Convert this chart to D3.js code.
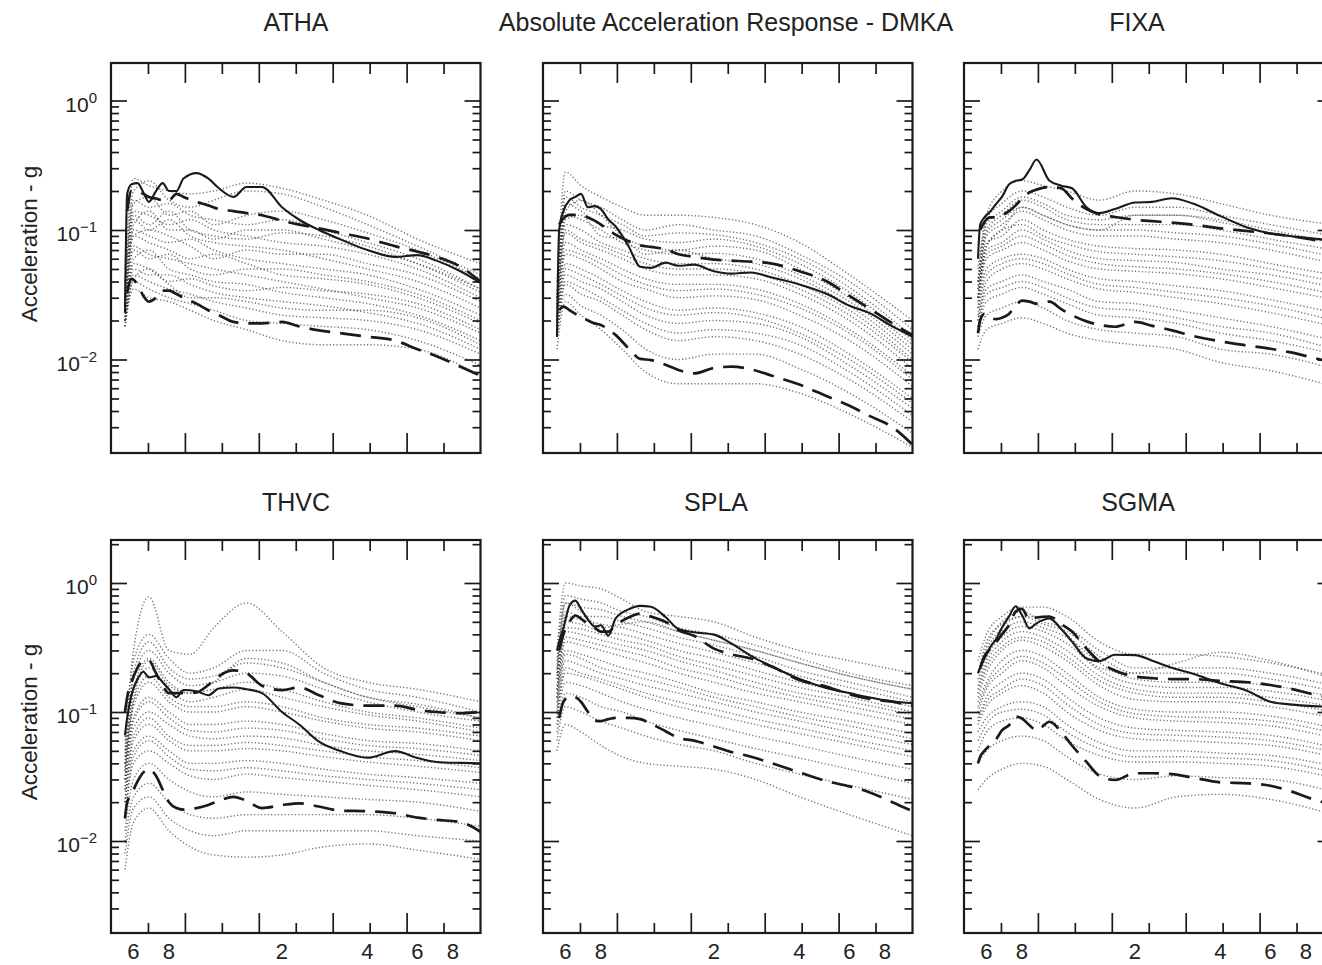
<!DOCTYPE html>
<html><head><meta charset="utf-8">
<script src="https://cdn.jsdelivr.net/npm/d3@7"></script>
<style>
html,body{margin:0;padding:0;background:#fff;}
svg{display:block;font-family:"Liberation Sans",Arial,Helvetica,sans-serif;}
</style></head><body>
<svg id="chart" width="1322" height="965"></svg>
<script>
// ---------------- DATA ----------------
const periods = [0.56, 0.57, 0.59, 0.62, 0.65, 0.68, 0.72, 0.76, 0.8, 0.85, 0.9, 1.0, 1.1, 1.2, 1.35, 1.5, 1.7, 2.0, 2.3, 2.7, 3.2, 4.0, 5.0, 6.0, 7.0, 8.5, 10];
const cloudPeriods = [0.56, 0.6, 0.68, 0.8, 0.95, 1.15, 1.5, 2.0, 2.8, 4.0, 6.0, 10];
const stationNames = ["ATHA", "DMKA", "FIXA", "THVC", "SPLA", "SGMA"];
const panelTitles = ["ATHA", "Absolute Acceleration Response - DMKA", "FIXA", "THVC", "SPLA", "SGMA"];
const yAxisTitle = "Acceleration - g";
const xTickLabels = ["6", "8", "2", "4", "6", "8"];
const xTickLabelPeriods = [0.6, 0.8, 2, 4, 6, 8];
const yDecades = [1, 0.1, 0.01];
const yDecadeExponents = ["0", "\u22121", "\u22122"];

const recordATHA = [0.023, 0.19, 0.225, 0.23, 0.195, 0.165, 0.2, 0.23, 0.2, 0.2, 0.25, 0.275, 0.25, 0.21, 0.18, 0.215, 0.215, 0.15, 0.12, 0.1, 0.085, 0.07, 0.062, 0.064, 0.058, 0.048, 0.039];
const upperATHA = [null, 0.14, 0.2, 0.2, 0.19, 0.18, 0.175, 0.17, 0.17, 0.19, 0.18, 0.165, 0.155, 0.145, 0.14, 0.135, 0.13, 0.118, 0.11, 0.103, 0.095, 0.086, 0.075, 0.068, 0.062, 0.052, 0.04];
const lowerATHA = [null, 0.033, 0.042, 0.038, 0.031, 0.028, 0.03, 0.034, 0.034, 0.032, 0.03, 0.027, 0.024, 0.022, 0.0195, 0.019, 0.019, 0.0195, 0.018, 0.0168, 0.016, 0.015, 0.014, 0.012, 0.0106, 0.0088, 0.0075];

const recordDMKA = [0.015, 0.1, 0.14, 0.17, 0.18, 0.19, 0.15, 0.153, 0.145, 0.12, 0.107, 0.075, 0.052, 0.051, 0.056, 0.053, 0.054, 0.048, 0.046, 0.047, 0.043, 0.038, 0.032, 0.026, 0.023, 0.018, 0.015];
const upperDMKA = [null, 0.11, 0.123, 0.131, 0.131, 0.13, 0.125, 0.118, 0.11, 0.1, 0.092, 0.082, 0.076, 0.074, 0.071, 0.065, 0.062, 0.059, 0.058, 0.057, 0.055, 0.048, 0.04, 0.031, 0.025, 0.019, 0.0155];
const lowerDMKA = [null, 0.024, 0.0256, 0.024, 0.0225, 0.0215, 0.02, 0.019, 0.0185, 0.017, 0.0155, 0.0122, 0.0101, 0.0099, 0.0091, 0.0083, 0.0078, 0.0086, 0.0088, 0.0084, 0.0075, 0.0064, 0.0052, 0.0044, 0.0037, 0.003, 0.0022];

const recordFIXA = [0.06, 0.11, 0.125, 0.14, 0.16, 0.18, 0.225, 0.24, 0.245, 0.29, 0.35, 0.24, 0.22, 0.21, 0.15, 0.135, 0.145, 0.163, 0.165, 0.176, 0.16, 0.128, 0.104, 0.094, 0.09, 0.086, 0.083];
const upperFIXA = [null, 0.1, 0.115, 0.125, 0.125, 0.13, 0.14, 0.155, 0.175, 0.195, 0.205, 0.215, 0.21, 0.175, 0.145, 0.132, 0.126, 0.12, 0.117, 0.114, 0.11, 0.103, 0.098, 0.094, 0.09, 0.084, 0.08];
const lowerFIXA = [0.016, 0.02, 0.0225, 0.021, 0.0205, 0.021, 0.0225, 0.026, 0.0285, 0.028, 0.027, 0.028, 0.0245, 0.022, 0.0197, 0.0185, 0.0179, 0.0195, 0.0182, 0.0168, 0.0152, 0.0138, 0.0128, 0.0121, 0.0114, 0.0103, 0.0095];

const recordTHVC = [0.066, 0.09, 0.135, 0.18, 0.205, 0.185, 0.19, 0.17, 0.15, 0.13, 0.148, 0.145, 0.135, 0.152, 0.155, 0.15, 0.14, 0.1, 0.08, 0.059, 0.05, 0.0442, 0.0497, 0.044, 0.041, 0.0403, 0.04];
const upperTHVC = [0.1, 0.13, 0.17, 0.22, 0.25, 0.25, 0.2, 0.16, 0.14, 0.14, 0.14, 0.142, 0.162, 0.19, 0.21, 0.2, 0.16, 0.148, 0.155, 0.135, 0.117, 0.112, 0.112, 0.104, 0.1, 0.098, 0.1];
const lowerTHVC = [0.015, 0.02, 0.023, 0.029, 0.034, 0.036, 0.032, 0.025, 0.02, 0.018, 0.0175, 0.018, 0.019, 0.0205, 0.022, 0.0205, 0.018, 0.019, 0.0196, 0.0185, 0.0172, 0.017, 0.0164, 0.0152, 0.0146, 0.014, 0.0118];

const recordSPLA = [0.3, 0.35, 0.445, 0.67, 0.73, 0.63, 0.52, 0.46, 0.47, 0.39, 0.53, 0.625, 0.665, 0.655, 0.545, 0.44, 0.415, 0.398, 0.34, 0.272, 0.225, 0.18, 0.153, 0.14, 0.13, 0.121, 0.117];
const upperSPLA = [null, 0.3, 0.4, 0.5, 0.56, 0.53, 0.48, 0.45, 0.42, 0.42, 0.47, 0.54, 0.58, 0.55, 0.5, 0.43, 0.39, 0.31, 0.28, 0.26, 0.225, 0.177, 0.157, 0.137, 0.127, 0.12, 0.112];
const lowerSPLA = [null, 0.09, 0.12, 0.132, 0.13, 0.12, 0.1, 0.086, 0.085, 0.088, 0.09, 0.09, 0.088, 0.081, 0.071, 0.063, 0.06, 0.054, 0.049, 0.045, 0.04, 0.034, 0.029, 0.0265, 0.024, 0.02, 0.017];

const recordSGMA = [0.2, 0.22, 0.26, 0.32, 0.37, 0.45, 0.55, 0.66, 0.565, 0.445, 0.487, 0.53, 0.44, 0.351, 0.26, 0.248, 0.278, 0.276, 0.25, 0.22, 0.198, 0.167, 0.145, 0.12, 0.1146, 0.111, 0.11];
const upperSGMA = [null, 0.22, 0.27, 0.31, 0.35, 0.4, 0.47, 0.6, 0.63, 0.52, 0.54, 0.55, 0.48, 0.42, 0.31, 0.245, 0.21, 0.188, 0.183, 0.18, 0.18, 0.174, 0.17, 0.162, 0.152, 0.137, 0.128];
const lowerSGMA = [0.04, 0.045, 0.05, 0.056, 0.062, 0.072, 0.079, 0.092, 0.089, 0.079, 0.072, 0.084, 0.07, 0.055, 0.041, 0.032, 0.0297, 0.0335, 0.0335, 0.033, 0.031, 0.0285, 0.028, 0.0268, 0.0245, 0.021, 0.019];

const cloudATHA = [
  [0.05, 0.25, 0.22, 0.2, 0.19, 0.2, 0.23, 0.21, 0.17, 0.13, 0.085, 0.055],
  [0.04, 0.2, 0.24, 0.17, 0.15, 0.17, 0.2, 0.19, 0.15, 0.11, 0.075, 0.045],
  [0.035, 0.17, 0.15, 0.16, 0.13, 0.12, 0.11, 0.12, 0.1, 0.08, 0.06, 0.035],
  [0.03, 0.14, 0.13, 0.11, 0.12, 0.1, 0.09, 0.08, 0.075, 0.065, 0.05, 0.03],
  [0.03, 0.12, 0.1, 0.12, 0.09, 0.08, 0.075, 0.07, 0.06, 0.05, 0.04, 0.025],
  [0.025, 0.1, 0.09, 0.08, 0.085, 0.07, 0.06, 0.055, 0.05, 0.045, 0.035, 0.022],
  [0.025, 0.09, 0.08, 0.07, 0.06, 0.065, 0.055, 0.045, 0.042, 0.038, 0.03, 0.019],
  [0.02, 0.075, 0.065, 0.06, 0.055, 0.05, 0.045, 0.04, 0.035, 0.03, 0.025, 0.016],
  [0.02, 0.06, 0.07, 0.05, 0.045, 0.04, 0.038, 0.033, 0.03, 0.027, 0.022, 0.014],
  [0.02, 0.05, 0.045, 0.045, 0.038, 0.033, 0.03, 0.028, 0.026, 0.023, 0.019, 0.012],
  [0.018, 0.045, 0.04, 0.035, 0.032, 0.028, 0.025, 0.022, 0.021, 0.02, 0.017, 0.011],
  [0.02, 0.04, 0.035, 0.03, 0.027, 0.024, 0.02, 0.019, 0.018, 0.017, 0.014, 0.009],
  [0.018, 0.035, 0.03, 0.028, 0.024, 0.02, 0.017, 0.014, 0.013, 0.013, 0.012, 0.0075],
  [0.02, 0.11, 0.14, 0.1, 0.1, 0.085, 0.1, 0.1, 0.085, 0.07, 0.055, 0.035],
  [0.03, 0.16, 0.18, 0.13, 0.14, 0.11, 0.13, 0.14, 0.12, 0.095, 0.07, 0.042],
  [0.025, 0.13, 0.11, 0.14, 0.1, 0.09, 0.085, 0.095, 0.09, 0.075, 0.055, 0.033],
  [0.025, 0.09, 0.1, 0.09, 0.075, 0.06, 0.07, 0.065, 0.065, 0.055, 0.045, 0.028],
  [0.02, 0.07, 0.06, 0.065, 0.05, 0.045, 0.05, 0.05, 0.045, 0.04, 0.032, 0.02],
  [0.02, 0.055, 0.05, 0.04, 0.042, 0.037, 0.034, 0.036, 0.034, 0.032, 0.027, 0.017],
  [0.018, 0.042, 0.05, 0.038, 0.03, 0.03, 0.028, 0.025, 0.024, 0.024, 0.021, 0.013]
];
const cloudDMKA = [
  [0.04, 0.28, 0.22, 0.18, 0.15, 0.13, 0.13, 0.125, 0.11, 0.08, 0.045, 0.02],
  [0.03, 0.2, 0.17, 0.15, 0.12, 0.1, 0.11, 0.1, 0.09, 0.065, 0.04, 0.017],
  [0.03, 0.16, 0.14, 0.11, 0.1, 0.085, 0.08, 0.085, 0.075, 0.055, 0.033, 0.014],
  [0.025, 0.13, 0.12, 0.1, 0.08, 0.07, 0.065, 0.066, 0.06, 0.045, 0.028, 0.012],
  [0.025, 0.11, 0.1, 0.08, 0.07, 0.06, 0.055, 0.055, 0.05, 0.038, 0.024, 0.01],
  [0.02, 0.095, 0.08, 0.07, 0.06, 0.05, 0.045, 0.045, 0.042, 0.032, 0.02, 0.0085],
  [0.02, 0.08, 0.07, 0.06, 0.05, 0.042, 0.038, 0.038, 0.035, 0.027, 0.017, 0.0075],
  [0.02, 0.065, 0.06, 0.05, 0.04, 0.035, 0.03, 0.031, 0.029, 0.022, 0.014, 0.0062],
  [0.018, 0.055, 0.05, 0.042, 0.034, 0.028, 0.024, 0.025, 0.023, 0.018, 0.011, 0.005],
  [0.018, 0.045, 0.04, 0.035, 0.028, 0.022, 0.019, 0.02, 0.019, 0.015, 0.009, 0.0042],
  [0.015, 0.038, 0.032, 0.028, 0.022, 0.017, 0.014, 0.015, 0.014, 0.011, 0.007, 0.0033],
  [0.015, 0.032, 0.026, 0.022, 0.017, 0.012, 0.01, 0.011, 0.011, 0.0085, 0.0055, 0.0027],
  [0.012, 0.028, 0.022, 0.017, 0.012, 0.008, 0.0065, 0.0065, 0.0065, 0.0055, 0.0038, 0.0021],
  [0.03, 0.14, 0.17, 0.13, 0.09, 0.075, 0.07, 0.075, 0.07, 0.05, 0.03, 0.013],
  [0.03, 0.18, 0.15, 0.13, 0.11, 0.09, 0.095, 0.092, 0.08, 0.06, 0.036, 0.015],
  [0.025, 0.12, 0.13, 0.09, 0.085, 0.065, 0.07, 0.06, 0.055, 0.042, 0.026, 0.011],
  [0.022, 0.1, 0.085, 0.075, 0.065, 0.055, 0.05, 0.05, 0.046, 0.035, 0.022, 0.0095],
  [0.02, 0.07, 0.065, 0.055, 0.045, 0.038, 0.034, 0.035, 0.032, 0.025, 0.016, 0.007],
  [0.018, 0.05, 0.045, 0.038, 0.031, 0.025, 0.022, 0.023, 0.021, 0.016, 0.01, 0.0046],
  [0.015, 0.04, 0.036, 0.03, 0.024, 0.019, 0.016, 0.017, 0.016, 0.013, 0.008, 0.0037]
];
const cloudFIXA = [
  [0.05, 0.13, 0.2, 0.24, 0.22, 0.2, 0.17, 0.2, 0.19, 0.16, 0.13, 0.11],
  [0.04, 0.12, 0.16, 0.2, 0.18, 0.15, 0.13, 0.15, 0.15, 0.13, 0.11, 0.09],
  [0.04, 0.1, 0.13, 0.17, 0.15, 0.12, 0.11, 0.11, 0.11, 0.1, 0.085, 0.07],
  [0.035, 0.09, 0.11, 0.14, 0.12, 0.1, 0.09, 0.09, 0.085, 0.08, 0.07, 0.055],
  [0.03, 0.08, 0.09, 0.12, 0.1, 0.085, 0.075, 0.072, 0.07, 0.065, 0.055, 0.045],
  [0.03, 0.07, 0.08, 0.1, 0.085, 0.07, 0.06, 0.058, 0.056, 0.05, 0.045, 0.036],
  [0.025, 0.06, 0.07, 0.08, 0.07, 0.058, 0.05, 0.048, 0.046, 0.042, 0.036, 0.029],
  [0.025, 0.05, 0.06, 0.065, 0.06, 0.05, 0.042, 0.04, 0.037, 0.034, 0.029, 0.023],
  [0.02, 0.04, 0.05, 0.055, 0.05, 0.042, 0.035, 0.033, 0.03, 0.027, 0.023, 0.018],
  [0.02, 0.035, 0.04, 0.045, 0.04, 0.035, 0.028, 0.027, 0.024, 0.021, 0.018, 0.014],
  [0.018, 0.028, 0.032, 0.036, 0.032, 0.027, 0.022, 0.021, 0.019, 0.016, 0.014, 0.011],
  [0.015, 0.022, 0.025, 0.028, 0.025, 0.02, 0.017, 0.016, 0.015, 0.012, 0.011, 0.0085],
  [0.012, 0.017, 0.019, 0.021, 0.019, 0.016, 0.014, 0.013, 0.012, 0.0095, 0.0082, 0.0062],
  [0.03, 0.075, 0.1, 0.15, 0.13, 0.11, 0.1, 0.13, 0.13, 0.12, 0.1, 0.08],
  [0.04, 0.11, 0.14, 0.18, 0.16, 0.13, 0.12, 0.13, 0.13, 0.115, 0.095, 0.08],
  [0.035, 0.095, 0.12, 0.15, 0.13, 0.11, 0.1, 0.1, 0.095, 0.09, 0.078, 0.062],
  [0.03, 0.075, 0.1, 0.11, 0.09, 0.078, 0.068, 0.065, 0.062, 0.058, 0.05, 0.04],
  [0.028, 0.065, 0.075, 0.09, 0.078, 0.064, 0.055, 0.052, 0.05, 0.046, 0.04, 0.032],
  [0.022, 0.045, 0.055, 0.06, 0.055, 0.046, 0.038, 0.036, 0.033, 0.03, 0.026, 0.02],
  [0.018, 0.032, 0.036, 0.04, 0.036, 0.03, 0.025, 0.024, 0.021, 0.018, 0.016, 0.012]
];
const cloudTHVC = [
  [0.06, 0.3, 0.78, 0.3, 0.28, 0.45, 0.7, 0.42, 0.22, 0.17, 0.15, 0.12],
  [0.05, 0.25, 0.4, 0.26, 0.2, 0.22, 0.3, 0.3, 0.2, 0.15, 0.13, 0.1],
  [0.04, 0.18, 0.3, 0.2, 0.16, 0.17, 0.2, 0.19, 0.15, 0.12, 0.1, 0.085],
  [0.035, 0.14, 0.22, 0.15, 0.12, 0.13, 0.15, 0.13, 0.11, 0.095, 0.085, 0.07],
  [0.03, 0.11, 0.17, 0.12, 0.1, 0.1, 0.11, 0.1, 0.085, 0.075, 0.07, 0.06],
  [0.03, 0.09, 0.13, 0.1, 0.08, 0.08, 0.085, 0.08, 0.068, 0.06, 0.057, 0.05],
  [0.025, 0.075, 0.1, 0.08, 0.065, 0.062, 0.065, 0.063, 0.055, 0.05, 0.047, 0.042],
  [0.02, 0.06, 0.08, 0.06, 0.05, 0.05, 0.052, 0.05, 0.045, 0.041, 0.038, 0.034],
  [0.02, 0.05, 0.065, 0.05, 0.04, 0.04, 0.042, 0.04, 0.036, 0.033, 0.031, 0.028],
  [0.015, 0.04, 0.05, 0.04, 0.032, 0.03, 0.033, 0.031, 0.029, 0.027, 0.025, 0.022],
  [0.012, 0.03, 0.04, 0.03, 0.024, 0.022, 0.024, 0.023, 0.022, 0.021, 0.02, 0.017],
  [0.01, 0.022, 0.028, 0.02, 0.016, 0.015, 0.016, 0.016, 0.016, 0.016, 0.015, 0.013],
  [0.008, 0.018, 0.022, 0.015, 0.012, 0.011, 0.012, 0.012, 0.012, 0.012, 0.011, 0.01],
  [0.006, 0.014, 0.018, 0.012, 0.009, 0.0078, 0.0075, 0.0078, 0.009, 0.0095, 0.0085, 0.0072],
  [0.04, 0.12, 0.25, 0.16, 0.14, 0.17, 0.26, 0.24, 0.17, 0.13, 0.11, 0.09],
  [0.045, 0.2, 0.35, 0.22, 0.18, 0.19, 0.24, 0.22, 0.17, 0.13, 0.115, 0.09],
  [0.035, 0.15, 0.26, 0.17, 0.14, 0.15, 0.17, 0.15, 0.12, 0.1, 0.09, 0.075],
  [0.03, 0.12, 0.19, 0.13, 0.11, 0.11, 0.12, 0.11, 0.09, 0.08, 0.075, 0.065],
  [0.025, 0.085, 0.12, 0.09, 0.072, 0.07, 0.075, 0.072, 0.062, 0.055, 0.052, 0.046],
  [0.02, 0.065, 0.09, 0.065, 0.055, 0.055, 0.058, 0.055, 0.05, 0.045, 0.042, 0.037],
  [0.015, 0.045, 0.06, 0.045, 0.036, 0.035, 0.037, 0.035, 0.032, 0.03, 0.028, 0.025]
];
const cloudSPLA = [
  [0.3, 1.0, 0.95, 0.9, 0.75, 0.6, 0.55, 0.5, 0.38, 0.3, 0.25, 0.2],
  [0.25, 0.8, 0.75, 0.7, 0.6, 0.55, 0.45, 0.4, 0.33, 0.26, 0.2, 0.16],
  [0.2, 0.6, 0.55, 0.55, 0.5, 0.45, 0.38, 0.33, 0.27, 0.21, 0.17, 0.13],
  [0.18, 0.5, 0.48, 0.42, 0.4, 0.36, 0.3, 0.26, 0.21, 0.17, 0.14, 0.11],
  [0.15, 0.42, 0.4, 0.36, 0.33, 0.3, 0.25, 0.21, 0.17, 0.14, 0.12, 0.095],
  [0.13, 0.35, 0.33, 0.3, 0.27, 0.24, 0.2, 0.17, 0.14, 0.12, 0.1, 0.08],
  [0.12, 0.3, 0.28, 0.25, 0.22, 0.2, 0.17, 0.14, 0.12, 0.1, 0.085, 0.068],
  [0.1, 0.25, 0.23, 0.2, 0.18, 0.16, 0.14, 0.12, 0.1, 0.085, 0.07, 0.056],
  [0.09, 0.2, 0.19, 0.17, 0.15, 0.13, 0.11, 0.095, 0.08, 0.068, 0.057, 0.045],
  [0.08, 0.17, 0.16, 0.14, 0.12, 0.105, 0.09, 0.078, 0.065, 0.055, 0.045, 0.036],
  [0.07, 0.14, 0.13, 0.11, 0.1, 0.085, 0.072, 0.062, 0.052, 0.044, 0.036, 0.028],
  [0.06, 0.11, 0.1, 0.085, 0.075, 0.065, 0.056, 0.05, 0.04, 0.033, 0.027, 0.021],
  [0.05, 0.08, 0.07, 0.055, 0.045, 0.04, 0.038, 0.036, 0.03, 0.022, 0.016, 0.011],
  [0.2, 0.7, 0.6, 0.45, 0.48, 0.5, 0.42, 0.36, 0.3, 0.24, 0.19, 0.15],
  [0.22, 0.7, 0.65, 0.62, 0.55, 0.5, 0.42, 0.36, 0.3, 0.24, 0.19, 0.15],
  [0.18, 0.55, 0.52, 0.48, 0.45, 0.4, 0.34, 0.29, 0.24, 0.19, 0.155, 0.12],
  [0.15, 0.45, 0.44, 0.4, 0.36, 0.33, 0.27, 0.23, 0.19, 0.155, 0.13, 0.1],
  [0.13, 0.38, 0.36, 0.33, 0.3, 0.27, 0.22, 0.19, 0.155, 0.13, 0.11, 0.088],
  [0.11, 0.28, 0.26, 0.22, 0.2, 0.18, 0.155, 0.13, 0.11, 0.092, 0.078, 0.062],
  [0.09, 0.22, 0.2, 0.18, 0.16, 0.14, 0.12, 0.105, 0.088, 0.075, 0.062, 0.05]
];
const cloudSGMA = [
  [0.25, 0.4, 0.55, 0.65, 0.65, 0.55, 0.35, 0.28, 0.28, 0.27, 0.24, 0.19],
  [0.2, 0.32, 0.5, 0.6, 0.5, 0.45, 0.3, 0.22, 0.22, 0.22, 0.2, 0.16],
  [0.18, 0.28, 0.42, 0.5, 0.45, 0.38, 0.24, 0.18, 0.17, 0.17, 0.16, 0.13],
  [0.15, 0.24, 0.35, 0.42, 0.38, 0.3, 0.19, 0.15, 0.14, 0.14, 0.13, 0.11],
  [0.13, 0.2, 0.3, 0.36, 0.32, 0.25, 0.16, 0.125, 0.12, 0.12, 0.11, 0.09],
  [0.12, 0.17, 0.25, 0.3, 0.27, 0.2, 0.13, 0.105, 0.1, 0.1, 0.093, 0.075],
  [0.1, 0.15, 0.2, 0.25, 0.22, 0.16, 0.11, 0.09, 0.085, 0.083, 0.078, 0.063],
  [0.09, 0.13, 0.17, 0.2, 0.18, 0.13, 0.09, 0.075, 0.072, 0.07, 0.066, 0.053],
  [0.08, 0.11, 0.14, 0.16, 0.14, 0.1, 0.072, 0.062, 0.06, 0.058, 0.055, 0.045],
  [0.07, 0.09, 0.11, 0.12, 0.11, 0.08, 0.058, 0.05, 0.05, 0.048, 0.046, 0.038],
  [0.05, 0.07, 0.085, 0.09, 0.08, 0.06, 0.046, 0.041, 0.041, 0.04, 0.038, 0.031],
  [0.04, 0.05, 0.06, 0.065, 0.06, 0.045, 0.033, 0.03, 0.032, 0.031, 0.03, 0.024],
  [0.025, 0.03, 0.036, 0.04, 0.038, 0.03, 0.021, 0.018, 0.022, 0.023, 0.021, 0.016],
  [0.2, 0.3, 0.45, 0.55, 0.55, 0.4, 0.22, 0.2, 0.24, 0.29, 0.25, 0.18],
  [0.2, 0.35, 0.48, 0.55, 0.48, 0.42, 0.27, 0.2, 0.2, 0.2, 0.18, 0.145],
  [0.16, 0.26, 0.38, 0.46, 0.42, 0.34, 0.21, 0.165, 0.155, 0.155, 0.145, 0.12],
  [0.14, 0.22, 0.32, 0.38, 0.35, 0.27, 0.175, 0.14, 0.13, 0.13, 0.12, 0.1],
  [0.11, 0.16, 0.22, 0.27, 0.24, 0.18, 0.12, 0.097, 0.092, 0.09, 0.085, 0.069],
  [0.085, 0.12, 0.15, 0.18, 0.16, 0.115, 0.08, 0.068, 0.066, 0.064, 0.06, 0.049],
  [0.06, 0.08, 0.1, 0.105, 0.095, 0.07, 0.052, 0.045, 0.045, 0.044, 0.042, 0.034]
];

// ---------------- LAYOUT ----------------
const colLeft = [111, 543, 964];
const plotW = 369.5;
const rowTop = [63, 540], rowBottom = [453, 933];
const rowUnitY = [100.5, 583], rowDecadePx = [129.5, 129];
const titleX = [296, 726, 1137, 296, 716, 1138];
const titleY = [31, 31, 31, 511, 511, 511];
const yTitleY = [244, 722];

const panels = [
  {record: recordATHA, upper: upperATHA, lower: lowerATHA, cloud: cloudATHA},
  {record: recordDMKA, upper: upperDMKA, lower: lowerDMKA, cloud: cloudDMKA},
  {record: recordFIXA, upper: upperFIXA, lower: lowerFIXA, cloud: cloudFIXA},
  {record: recordTHVC, upper: upperTHVC, lower: lowerTHVC, cloud: cloudTHVC},
  {record: recordSPLA, upper: upperSPLA, lower: lowerSPLA, cloud: cloudSPLA},
  {record: recordSGMA, upper: upperSGMA, lower: lowerSGMA, cloud: cloudSGMA}
];

const svg = d3.select("#chart");
const ink = "#1a1a1a";

panels.forEach((p, i) => {
  const col = i % 3, row = Math.floor(i / 3);
  const L = colLeft[col], T = rowTop[row], B = rowBottom[row];
  const yMax = Math.pow(10, (rowUnitY[row] - T) / rowDecadePx[row]);
  const yMin = Math.pow(10, -(B - rowUnitY[row]) / rowDecadePx[row]);
  const x = d3.scaleLog().domain([0.5, 10]).range([L, L + plotW]);
  const y = d3.scaleLog().domain([yMin, yMax]).range([B, T]);
  const u = d3.scaleLinear().domain([0, 10]).range([L, L + plotW]);

  const g = svg.append("g").attr("class", "panel-" + stationNames[i]);
  const clipId = "clip" + i;
  g.append("clipPath").attr("id", clipId).append("rect")
    .attr("x", L).attr("y", T).attr("width", plotW).attr("height", B - T);

  const line = d3.line()
    .defined(d => d[1] != null)
    .x(d => x(d[0])).y(d => y(d[1]))
    .curve(d3.curveMonotoneX);

  const plot = g.append("g").attr("clip-path", `url(#${clipId})`);
  plot.selectAll("path.cloud").data(p.cloud).join("path")
    .attr("class", "cloud")
    .attr("d", c => line(cloudPeriods.map((t, k) => [t, c[k]])))
    .attr("fill", "none").attr("stroke", "#383838")
    .attr("stroke-width", 1.4).attr("stroke-dasharray", "1.2,2.2")
    .attr("opacity", 0.72);

  [p.upper, p.lower].forEach(s => {
    plot.append("path").attr("d", line(periods.map((t, k) => [t, s[k]])))
      .attr("fill", "none").attr("stroke", ink).attr("stroke-width", 2.7)
      .attr("stroke-dasharray", "21,10");
  });
  plot.append("path").attr("d", line(periods.map((t, k) => [t, p.record[k]])))
    .attr("fill", "none").attr("stroke", ink).attr("stroke-width", 2.1);

  // axes ticks
  const allY = y.ticks();
  const majorY = allY.filter(v => Math.abs(Math.log10(v) - Math.round(Math.log10(v))) < 1e-6);
  const minorY = allY.filter(v => !majorY.includes(v) && v > yMin * 1.15 && v < yMax);
  const styleAxis = s => {
    s.select(".domain").remove();
    s.selectAll("line").attr("stroke", ink).attr("stroke-width", 1.7);
    s.selectAll("text").remove();
  };
  g.append("g").attr("transform", `translate(${L},0)`).call(d3.axisLeft(y).tickValues(minorY).tickSize(-8)).call(styleAxis);
  g.append("g").attr("transform", `translate(${L},0)`).call(d3.axisLeft(y).tickValues(majorY).tickSize(-16)).call(styleAxis);
  g.append("g").attr("transform", `translate(${L + plotW},0)`).call(d3.axisRight(y).tickValues(minorY).tickSize(-8)).call(styleAxis);
  g.append("g").attr("transform", `translate(${L + plotW},0)`).call(d3.axisRight(y).tickValues(majorY).tickSize(-16)).call(styleAxis);
  g.append("g").attr("transform", `translate(0,${T})`).call(d3.axisTop(u).tickValues([1, 3, 5, 7, 9]).tickSize(-11)).call(styleAxis);
  g.append("g").attr("transform", `translate(0,${T})`).call(d3.axisTop(u).tickValues([2, 4, 6, 8]).tickSize(-20)).call(styleAxis);
  g.append("g").attr("transform", `translate(0,${B})`).call(d3.axisBottom(u).tickValues([1, 3, 5, 7, 9]).tickSize(-10)).call(styleAxis);
  g.append("g").attr("transform", `translate(0,${B})`).call(d3.axisBottom(u).tickValues([2, 4, 6, 8]).tickSize(-20)).call(styleAxis);

  g.append("rect").attr("x", L).attr("y", T).attr("width", plotW).attr("height", B - T)
    .attr("fill", "none").attr("stroke", ink).attr("stroke-width", 2.2);

  // y tick labels (first column)
  if (col === 0) {
    yDecades.forEach((v, k) => {
      const t = g.append("text").attr("x", L - 14).attr("y", y(v) + 11)
        .attr("text-anchor", "end").attr("font-size", 21).attr("fill", "#222");
      t.append("tspan").text("10");
      t.append("tspan").attr("dy", -9).attr("font-size", 15).text(yDecadeExponents[k]);
    });
    g.append("text").attr("transform", `translate(37,${yTitleY[row]}) rotate(-90)`)
      .attr("text-anchor", "middle").attr("font-size", 22.5).attr("fill", "#222")
      .text(yAxisTitle);
  }
  // x tick labels (bottom row)
  if (row === 1) {
    g.selectAll("text.xl").data(xTickLabelPeriods).join("text")
      .attr("class", "xl").attr("x", v => x(v)).attr("y", B + 26)
      .attr("text-anchor", "middle").attr("font-size", 22).attr("fill", "#222")
      .text((v, k) => xTickLabels[k]);
  }
  // title
  g.append("text").attr("x", titleX[i]).attr("y", titleY[i])
    .attr("text-anchor", "middle").attr("font-size", 25).attr("fill", "#222")
    .text(panelTitles[i]);
});
</script>
</body></html>
